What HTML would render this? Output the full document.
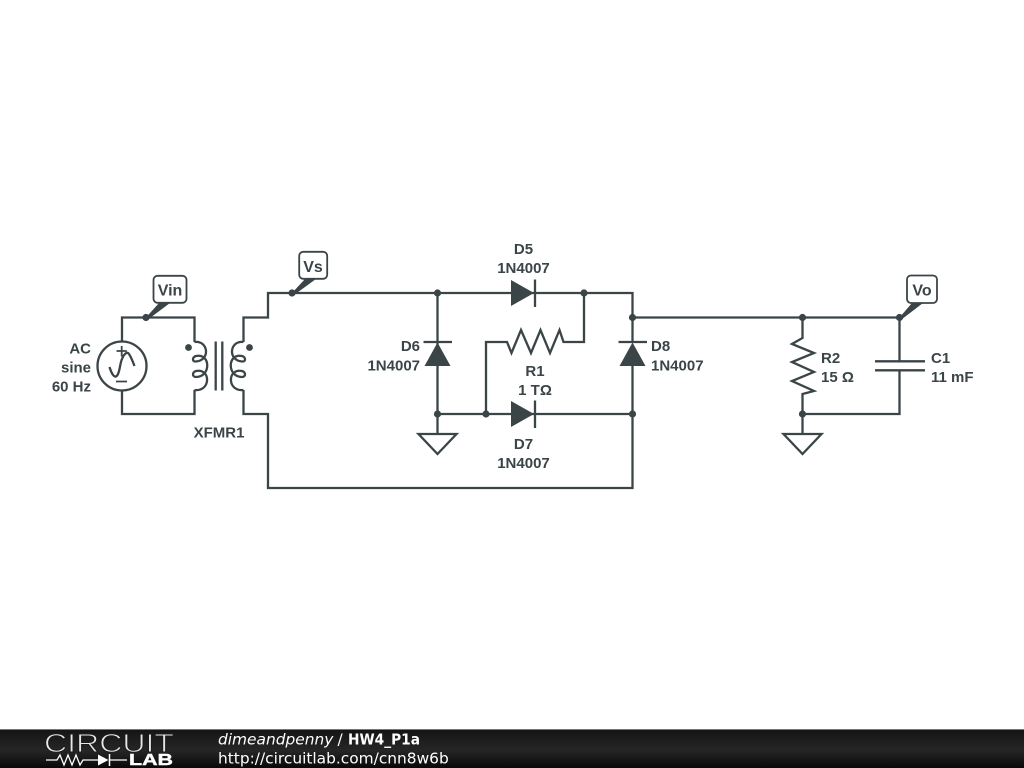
<!DOCTYPE html>
<html>
<head>
<meta charset="utf-8">
<style>
html,body{margin:0;padding:0;background:#fff;width:1024px;height:768px;overflow:hidden}
svg{display:block;filter:blur(0.35px)}
.w{fill:none;stroke:#3b4548;stroke-width:2.3;stroke-linejoin:miter}
.s{fill:none;stroke:#3b4548;stroke-width:1.8}
.d{fill:#3b4548;stroke:none}
.t{font-family:"Liberation Sans",sans-serif;font-weight:700;font-size:15px;fill:#3b4548}
.p{font-family:"Liberation Sans",sans-serif;font-weight:700;font-size:16px;fill:#3b4548}
.f{font-family:"DejaVu Sans",sans-serif;font-size:15.400px;fill:#fff}
</style>
</head>
<body>
<svg width="1024" height="768" viewBox="0 0 1024 768" xmlns="http://www.w3.org/2000/svg">
<defs>
<linearGradient id="g" x1="0" y1="0" x2="0" y2="1">
<stop offset="0" stop-color="#141414"/>
<stop offset="0.55" stop-color="#262626"/>
<stop offset="1" stop-color="#080808"/>
</linearGradient>
</defs>

<!-- primary loop -->
<path class="w" d="M122 341.500V317.500H194.500V342M122 390.500V414H194.500V390"/>
<circle class="w" cx="122" cy="366" r="24.500"/>
<path class="s" d="M116.500 351H126.800M121.700 346V356.500M116 381.500H127"/>
<path class="w" d="M109.500 367C112 375 115 379 117.500 375C120 371 120 363 122 359C124 354 127 351 129 354C131 357 133 362 134.500 366"/>

<!-- transformer -->
<path class="w" d="M194.500 342C208 340 211 360 196 361.500C192 362 192 357 196 356C211 353 211 377 196 377C192 377 192 372 196 371C211 368 211 392 194.500 390"/>
<path class="w" d="M243.500 342C230 340 227 360 242 361.500C246 362 246 357 242 356C227 353 227 377 242 377C246 377 246 372 242 371C227 368 227 392 243.500 390"/>
<path class="w" d="M215.700 341.500V390.500M222.300 341.500V390.500"/>
<circle class="d" cx="188.500" cy="347.500" r="3.400"/>
<circle class="d" cx="249.500" cy="347.500" r="3.400"/>

<!-- main wires -->
<path class="w" d="M243.500 342V317.500H268V293H632.500V342"/>
<path class="w" d="M243.500 390V414H268V488H632.500V366"/>
<path class="w" d="M632.500 317.500H899.500V361M899.500 370V414H802.500"/>
<path class="w" d="M437.500 293V366M437.500 366V434M437.500 414H632.500"/>

<!-- R1 -->
<path class="w" d="M486 414V342H507L511.500 353L521 330L531 353L540.500 330L550 353L559.500 330L563.500 342H584V293"/>

<!-- diodes -->
<path class="d" d="M511 280L534 293L511 306Z"/>
<path class="w" d="M535 279.500V307"/>
<path class="d" d="M511 401L534 414L511 427Z"/>
<path class="w" d="M535 400.500V428"/>
<path class="d" d="M437.500 342.500L450.500 366H424.500Z"/>
<path class="w" d="M423.500 342H452"/>
<path class="d" d="M632.500 342.500L645.500 366H619.500Z"/>
<path class="w" d="M618.500 342H647"/>

<!-- grounds -->
<path class="w" d="M418.500 434H456.500L437.500 454Z"/>
<path class="w" d="M802.500 414V434M783.500 434H821.500L802.500 454Z"/>

<!-- R2 -->
<path class="w" d="M802.500 317.500V338L792 344L814 353L792 362L814 372L792 381L814 391L802.500 394V414"/>

<!-- C1 -->
<path class="w" d="M875 361.300H925M875 370.300H925"/>

<!-- junctions -->
<g class="d">
<circle cx="146" cy="317.500" r="3.600"/>
<circle cx="292" cy="293" r="3.600"/>
<circle cx="437.500" cy="293" r="3.600"/>
<circle cx="584" cy="293" r="3.600"/>
<circle cx="632.500" cy="317.500" r="3.600"/>
<circle cx="802.500" cy="317.500" r="3.600"/>
<circle cx="899.500" cy="317.500" r="3.600"/>
<circle cx="437.500" cy="414" r="3.600"/>
<circle cx="486" cy="414" r="3.600"/>
<circle cx="632.500" cy="414" r="3.600"/>
<circle cx="802.500" cy="414" r="3.600"/>
</g>

<!-- probes -->
<path class="d" d="M146 317.500L159 303H170L148 319.500Z"/>
<path class="d" d="M292 293L305 279H316L294 295Z"/>
<path class="d" d="M899.500 317.500L912 303H923L901.500 319.500Z"/>
<rect x="153.500" y="275.800" width="33" height="27" rx="4" fill="#fff" stroke="#3b4548" stroke-width="1.800"/>
<rect x="299.200" y="251.800" width="28" height="27" rx="4" fill="#fff" stroke="#3b4548" stroke-width="1.800"/>
<rect x="907" y="275.500" width="30" height="27.500" rx="4" fill="#fff" stroke="#3b4548" stroke-width="1.800"/>
<text class="p" x="170" y="295.500" text-anchor="middle">Vin</text>
<text class="p" x="313" y="272" text-anchor="middle">Vs</text>
<text class="p" x="922" y="295.500" text-anchor="middle">Vo</text>

<!-- labels -->
<text class="t" x="91" y="353.500" text-anchor="end">AC</text>
<text class="t" x="91" y="372.500" text-anchor="end">sine</text>
<text class="t" x="91" y="391.500" text-anchor="end">60 Hz</text>
<text class="t" x="219" y="437.500" text-anchor="middle">XFMR1</text>
<text class="t" x="523.500" y="254" text-anchor="middle">D5</text>
<text class="t" x="523.500" y="273" text-anchor="middle">1N4007</text>
<text class="t" x="420" y="351" text-anchor="end">D6</text>
<text class="t" x="420" y="370.500" text-anchor="end">1N4007</text>
<text class="t" x="651" y="351">D8</text>
<text class="t" x="651" y="370.500">1N4007</text>
<text class="t" x="535" y="376" text-anchor="middle">R1</text>
<text class="t" x="535" y="395" text-anchor="middle">1 TΩ</text>
<text class="t" x="523.500" y="449" text-anchor="middle">D7</text>
<text class="t" x="523.500" y="468" text-anchor="middle">1N4007</text>
<text class="t" x="821" y="363">R2</text>
<text class="t" x="821" y="382">15 Ω</text>
<text class="t" x="931" y="363">C1</text>
<text class="t" x="931" y="382">11 mF</text>

<!-- footer -->
<rect x="0" y="729" width="1024" height="39" fill="url(#g)"/>
<rect x="0" y="729" width="1024" height="1" fill="#777"/>
<text x="44" y="752" font-family="Liberation Sans, sans-serif" font-size="26" fill="#e8e8e8" stroke="#1c1c1c" stroke-width="0.900" textLength="130" lengthAdjust="spacingAndGlyphs">CIRCUIT</text>
<path fill="none" stroke="#fff" stroke-width="1.300" d="M46 760H57L60 755L64 765L68 755L72 765L76 755L80 765L83 760H98M110 760H127"/>
<path fill="#fff" d="M98 754.500L108.500 760L98 765.500Z"/>
<path fill="none" stroke="#fff" stroke-width="1.500" d="M109.500 754V766"/>
<text x="129" y="765" font-family="Liberation Sans, sans-serif" font-weight="700" font-size="15.500" fill="#fff" stroke="#fff" stroke-width="0.400" textLength="44" lengthAdjust="spacingAndGlyphs">LAB</text>
<text class="f" x="218" y="744.500" font-style="italic">dimeandpenny</text>
<text class="f" x="337.500" y="744.500">/</text>
<text class="f" x="348" y="744.500" font-weight="700" textLength="72" lengthAdjust="spacingAndGlyphs">HW4_P1a</text>
<text class="f" x="218" y="763.500">http://circuitlab.com/cnn8w6b</text>
</svg>
</body>
</html>
